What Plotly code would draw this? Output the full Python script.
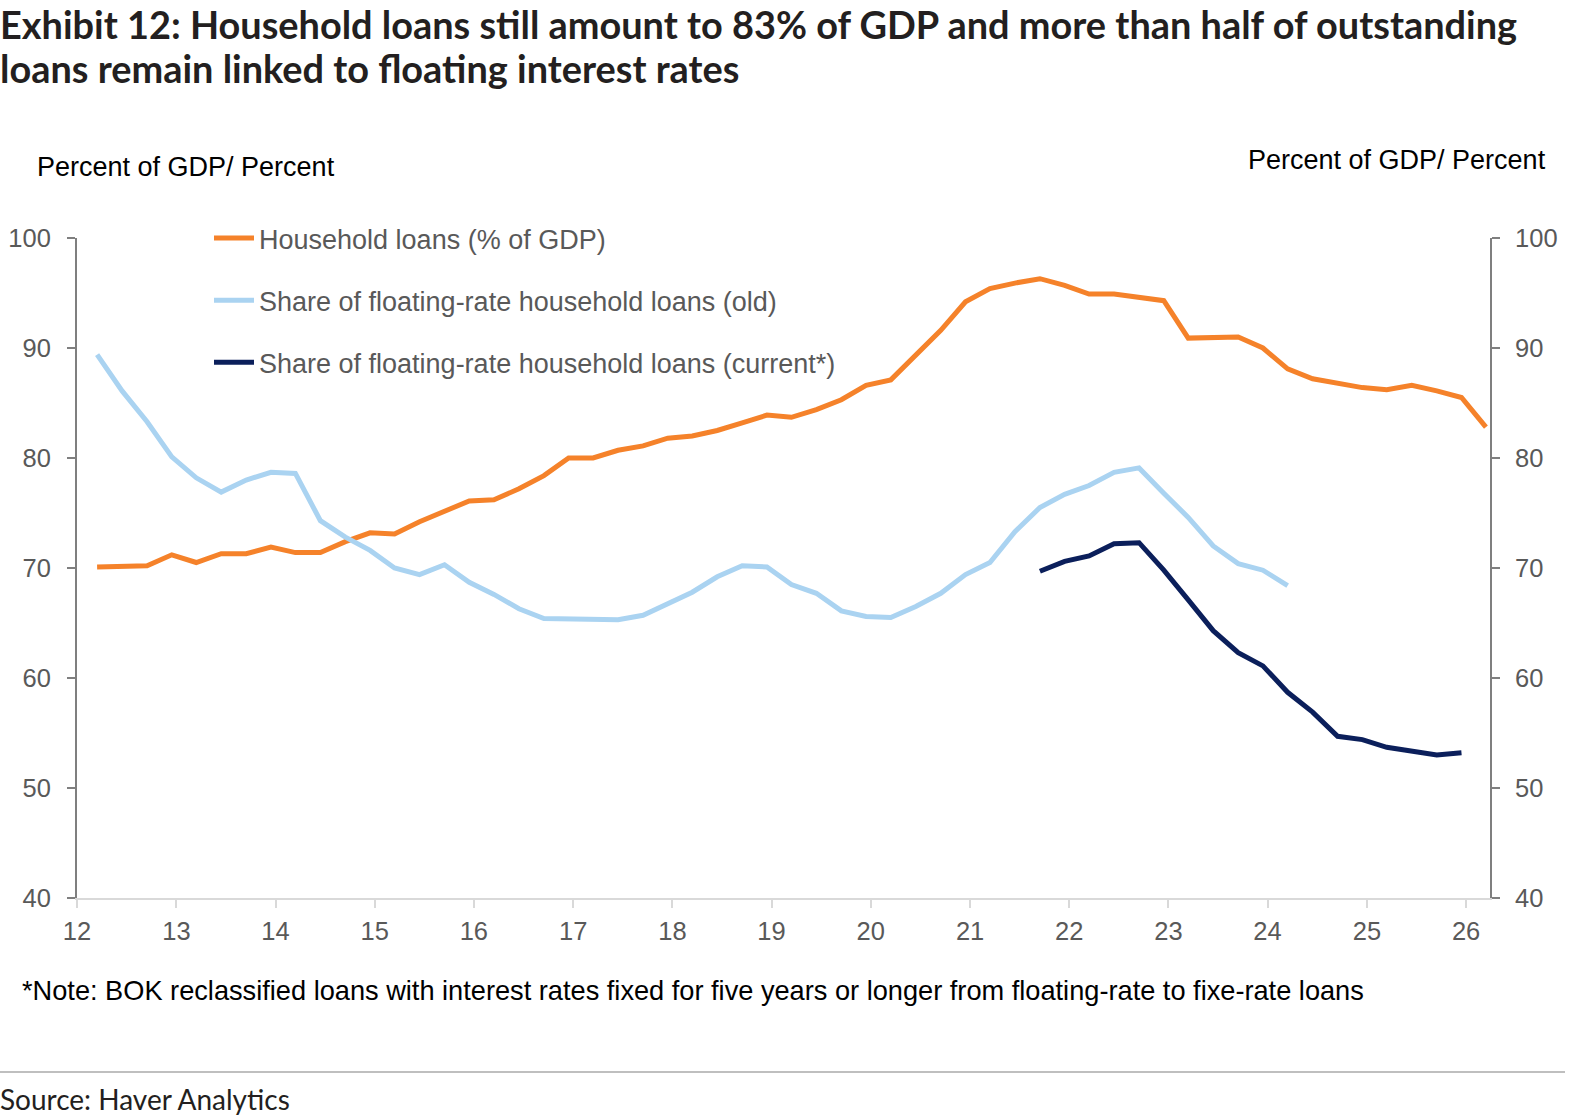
import plotly.graph_objects as go

# ---------------- data ----------------
quarters_all = [f"{y}Q{q}" for y in range(2012, 2027) for q in range(1, 5)]
household_start = "2012Q1"
household_loans = [
    70.1, 70.1, 70.2, 71.2,
    70.5, 71.3, 71.3, 71.9,
    71.4, 71.4, 72.4, 73.2,
    73.1, 74.2, 75.1, 76.1,
    76.2, 77.2, 78.4, 80.0,
    80.0, 80.7, 81.1, 81.8,
    82.0, 82.5, 83.2, 83.9,
    83.7, 84.4, 85.3, 86.6,
    87.1, 89.4, 91.6, 94.2,
    95.4, 95.9, 96.3, 95.7,
    94.9, 94.9, 94.6, 94.3,
    90.9, 91.0, 91.0, 90.0,
    88.1, 87.2, 86.8, 86.4,
    86.2, 86.6, 86.1, 85.5,
    82.8,
]
floating_old_start = "2012Q1"
floating_old = [
    89.4, 86.1, 83.3, 80.1,
    78.2, 76.9, 78.0, 78.7,
    78.6, 74.3, 72.8, 71.6,
    70.0, 69.4, 70.3, 68.7,
    67.6, 66.3, 65.4, 65.4,
    65.3, 65.3, 65.7, 66.7,
    67.8, 69.2, 70.2, 70.1,
    68.5, 67.7, 66.1, 65.6,
    65.5, 66.5, 67.7, 69.4,
    70.5, 73.3, 75.5, 76.7,
    77.5, 78.7, 79.1, 76.8,
    74.6, 72.0, 70.4, 69.8,
    68.4,
]
floating_current_start = "2021Q3"
floating_current = [
    69.7, 70.6,
    71.1, 72.2, 72.3, 69.8,
    67.1, 64.3, 62.3, 61.1,
    58.7, 56.9, 54.7, 54.4,
    53.7, 53.4, 53.0, 53.2,
]
year_ticks = list(range(2012, 2027))
year_labels = [str(y)[2:] for y in year_ticks]

series_names = [
    "Household loans (% of GDP)",
    "Share of floating-rate household loans (old)",
    "Share of floating-rate household loans (current*)",
]

title_lines = [
    "Exhibit 12: Household loans still amount to 83% of GDP and more than half of outstanding",
    "loans remain linked to floating interest rates",
]


def q_to_date(q):
    y, n = q.split("Q")
    month = int(n) * 3
    return f"{y}-{month:02d}-15"


def x_for(start, values):
    i0 = quarters_all.index(start)
    return [q_to_date(q) for q in quarters_all[i0:i0 + len(values)]]


# ---------------- layout helpers ----------------
W, H = 1578, 1120
PL, PR, PT, PB = 77, 1490, 238, 898
PAD = 2  # annotation inner offset correction


def px(x):
    return (x - PL) / (PR - PL)


def py(y):
    return (PB - y) / (PB - PT)


ORANGE = "#F5822A"
LIGHT = "#AAD3F1"
NAVY = "#0B1F5B"
GREY = "#595959"
LW = 5

fig = go.Figure()
fig.add_trace(go.Scatter(
    x=x_for(household_start, household_loans), y=household_loans,
    name=series_names[0], mode="lines", yaxis="y",
    line=dict(color=ORANGE, width=LW), legendgroup="a"))
fig.add_trace(go.Scatter(
    x=x_for(floating_old_start, floating_old), y=floating_old,
    name=series_names[1], mode="lines", yaxis="y2",
    line=dict(color=LIGHT, width=LW), legendgroup="b"))
fig.add_trace(go.Scatter(
    x=x_for(floating_current_start, floating_current), y=floating_current,
    name=series_names[2], mode="lines", yaxis="y2",
    line=dict(color=NAVY, width=LW), legendgroup="c"))

tick_font = dict(family="Liberation Sans, Arial", size=25.5, color=GREY)

fig.update_layout(
    width=W, height=H,
    margin=dict(l=PL, r=W - PR, t=PT, b=H - PB, autoexpand=False),
    paper_bgcolor="white", plot_bgcolor="white",
    font=dict(family="Liberation Sans, Arial"),
    showlegend=True,
    legend=dict(
        x=px(209), y=py(214), xanchor="left", yanchor="top",
        font=dict(family="Liberation Sans, Arial", size=27, color=GREY),
        bgcolor="rgba(0,0,0,0)", tracegroupgap=24,
        itemwidth=40,
    ),
    xaxis=dict(
        type="date", range=["2012-01-01", "2026-03-30"],
        tickmode="array",
        tickvals=[f"{y}-01-01" for y in year_ticks],
        ticktext=year_labels, automargin=False,
        showgrid=False, zeroline=False,
        showline=True, linecolor="#D9D9D9", linewidth=2,
        ticks="outside", ticklen=8, tickwidth=1.5, tickcolor="#D9D9D9",
        tickfont=tick_font, ticklabelstandoff=1,
    ),
    yaxis=dict(
        range=[40, 100], dtick=10, tick0=40, automargin=False,
        showgrid=False, zeroline=False,
        showline=True, linecolor="#7F7F7F", linewidth=2,
        ticks="outside", ticklen=8, tickwidth=1.5, tickcolor="#7F7F7F",
        tickfont=tick_font, ticklabelstandoff=11,
    ),
    yaxis2=dict(
        range=[40, 100], dtick=10, tick0=40, automargin=False,
        overlaying="y", side="right",
        showgrid=False, zeroline=False,
        showline=True, linecolor="#7F7F7F", linewidth=2,
        ticks="outside", ticklen=8, tickwidth=1.5, tickcolor="#7F7F7F",
        tickfont=tick_font, ticklabelstandoff=10,
    ),
)

title_font = dict(family="Lato", size=37.9, color="#231F20", weight="bold")
annotations = [
    dict(text=title_lines[0], x=px(0 - PAD), y=py(24),
         xanchor="left", yanchor="middle", font=title_font),
    dict(text=title_lines[1], x=px(0 - PAD), y=py(68),
         xanchor="left", yanchor="middle", font=title_font),
    dict(text="Percent of GDP/ Percent", x=px(37 - PAD), y=py(167),
         xanchor="left", yanchor="middle",
         font=dict(family="Liberation Sans, Arial", size=27, color="black")),
    dict(text="Percent of GDP/ Percent", x=px(1548), y=py(160),
         xanchor="right", yanchor="middle",
         font=dict(family="Liberation Sans, Arial", size=27, color="black")),
    dict(text="*Note: BOK reclassified loans with interest rates fixed for five years or longer from floating-rate to fixe-rate loans",
         x=px(22 - PAD), y=py(990), xanchor="left", yanchor="middle",
         font=dict(family="Liberation Sans, Arial", size=27.2, color="black")),
    dict(text="Source: Haver Analytics", x=px(0 - PAD), y=py(1099),
         xanchor="left", yanchor="middle",
         font=dict(family="Lato", size=28, color="#231F20")),
]
for a in annotations:
    a.update(xref="paper", yref="paper", showarrow=False, align="left")
fig.update_layout(annotations=annotations)

fig.add_shape(type="line", xref="paper", yref="paper",
              x0=px(0), x1=px(1565), y0=py(1072), y1=py(1072),
              line=dict(color="#AAAAAA", width=1.5))

fig.write_html("out.html")
